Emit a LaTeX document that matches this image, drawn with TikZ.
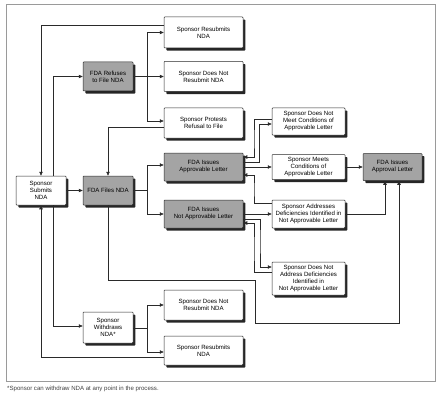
\documentclass[tikz,border=0pt]{standalone}
\usepackage{fontspec}
\setmainfont{Liberation Sans}
\usepackage{tikz}
\usetikzlibrary{arrows.meta, positioning, calc, shadows}
\definecolor{ndaGray}{HTML}{A4A4A4}
\definecolor{ndaLine}{HTML}{2A2A2A}
\definecolor{ndaFrame}{HTML}{9A9A9A}
\newcommand{\ndafont}{\fontsize{6.1}{7}\selectfont}
\tikzset{
  ndabox/.style={draw=ndaLine, fill=white, rounded corners=0.8pt, align=center,
                 inner sep=1pt, font=\ndafont, line width=0.5pt,
                 general shadow={fill=black!85, shadow xshift=2.4pt, shadow yshift=-2.6pt}},
  fdabox/.style={ndabox, fill=ndaGray},
  ndaarr/.style={draw=ndaLine, line width=0.55pt, -{Triangle[length=4pt,width=3.4pt]}},
  ndaln/.style={draw=ndaLine, line width=0.55pt},
}

\begin{document}
\begin{tikzpicture}[x=1pt, y=-1pt]
\useasboundingbox (0,0) rectangle (441,401);
\draw[ndaFrame, line width=0.5pt] (6,4) rectangle (435,381);

% left column
\node[ndabox, minimum width=50pt, minimum height=29pt] (sub) at (41,190.5) {Sponsor\\Submits\\NDA};
\node[fdabox, minimum width=50pt, minimum height=29pt] (ref) at (108,76.5) {FDA Refuses\\to File NDA};
\node[fdabox, minimum width=50pt, minimum height=29pt] (fil) at (108,190.5) {FDA Files NDA};
\node[ndabox, minimum width=50pt, minimum height=31pt] (wd) at (108,327.5) {Sponsor\\Withdraws\\NDA*};

% middle column
\node[ndabox, minimum width=79pt, minimum height=31pt] (resT) at (203.5,32.5) {Sponsor Resubmits\\NDA};
\node[ndabox, minimum width=79pt, minimum height=30pt] (dnrT) at (203.5,76.5) {Sponsor Does Not\\Resubmit NDA};
\node[ndabox, minimum width=79pt, minimum height=30pt] (pro) at (203.5,123) {Sponsor Protests\\Refusal to File};
\node[fdabox, minimum width=79pt, minimum height=28pt] (apl) at (203.5,167) {FDA Issues\\Approvable Letter};
\node[fdabox, minimum width=79pt, minimum height=28pt] (napl) at (203.5,214) {FDA Issues\\Not Approvable Letter};
\node[ndabox, minimum width=79pt, minimum height=30pt] (dnrB) at (203.5,305) {Sponsor Does Not\\Resubmit NDA};
\node[ndabox, minimum width=79pt, minimum height=29pt] (resB) at (203.5,350.5) {Sponsor Resubmits\\NDA};

% right columns
\node[ndabox, minimum width=73pt, minimum height=27pt] (dnm) at (308.5,121.5) {Sponsor Does Not\\Meet Conditions of\\Approvable Letter};
\node[ndabox, minimum width=73pt, minimum height=25pt] (meet) at (308.5,167) {Sponsor Meets\\Conditions of\\Approvable Letter};
\node[ndabox, minimum width=73pt, minimum height=28pt] (addr) at (308.5,214) {Sponsor Addresses\\Deficiencies Identified in\\Not Approvable Letter};
\node[ndabox, minimum width=73pt, minimum height=33pt] (dna) at (308.5,278.5) {Sponsor Does Not\\Address Deficiencies\\Identified in\\Not Approvable Letter};
\node[fdabox, minimum width=59pt, minimum height=27pt] (appr) at (392.5,167) {FDA Issues\\Approval Letter};

\node[anchor=west, font=\ndafont, text=black!75, inner sep=0pt] (note) at (7,389) {*Sponsor can withdraw NDA at any point in the process.};

% submission and refusal
\coordinate (jref) at (147,76.5);
\coordinate (jfil) at (147,190.5);
\coordinate (jwd) at (147,328);
\draw[ndaarr] ([yshift=7pt]resT.west) -| (sub.north);
\draw[ndaarr] ([xshift=12pt]sub.north) |- (ref.west);
\draw[ndaarr] (ref.east) -- (dnrT.west);
\draw[ndaarr] (jref) |- (resT.west);
\draw[ndaarr] (jref) |- ([yshift=2pt]pro.west);
\draw[ndaarr] ([yshift=-4pt]pro.west) -| (fil.north);
\draw[ndaarr] (sub.east) -- (fil.west);

% filing
\draw[ndaln] (fil.east) -- (jfil);
\draw[ndaarr] (jfil) |- ([yshift=2pt]apl.west);
\draw[ndaarr] (jfil) |- (napl.west);
\draw[ndaarr] (fil.south) |- (255,280) -- (255,323) -| ([xshift=6.5pt]appr.south);

% approvable letter
\draw[ndaarr] ([yshift=2.5pt]dnm.west) -| (254,140) |- ([yshift=10pt]apl.east);
\draw[ndaarr] ([yshift=5pt]apl.east) -| (259.5,140) |- ([yshift=-2.5pt]dnm.west);
\draw[ndaarr] (apl.east) -- (meet.west);
\draw[ndaarr] (meet.east) -- (appr.west);

% not approvable letter
\draw[ndaarr] (napl.east) -- (addr.west);
\draw[ndaarr] ([yshift=11pt]addr.west) -| (254,190) |- ([yshift=-8pt]apl.east);
\draw[ndaarr] (addr.east) -| ([xshift=-7.5pt]appr.south);
\draw[ndaarr] ([yshift=-5pt]napl.east) -| (260,240) |- ([yshift=11.5pt]dna.west);
\draw[ndaarr] ([yshift=6.5pt]dna.west) -| (254,250) |- ([yshift=-9pt]napl.east);

% withdrawal
\draw[ndaarr] ([xshift=12pt]sub.south) |- ([yshift=1.5pt]wd.west);
\draw[ndaln] ([yshift=-0.5pt]wd.east) -- (jwd);
\draw[ndaarr] (jwd) |- (dnrB.west);
\draw[ndaarr] (jwd) |- ([yshift=-1.5pt]resB.west);
\draw[ndaarr] ([yshift=-6.5pt]resB.west) -| (sub.south);
\end{tikzpicture}
\end{document}
